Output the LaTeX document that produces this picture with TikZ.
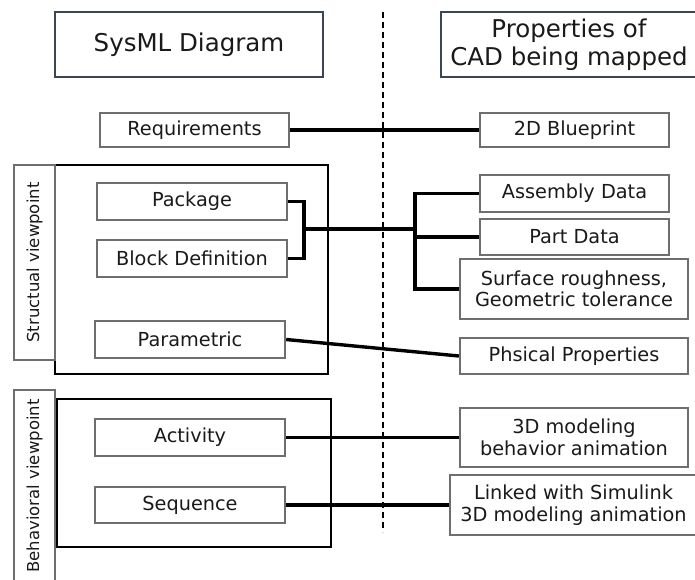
\documentclass[tikz,border=0pt]{standalone}
\usepackage{fontspec}
\setmainfont{DejaVu Sans}
\definecolor{hdrc}{HTML}{3A4656}
\definecolor{itmc}{HTML}{6E6E6E}
\definecolor{txt}{HTML}{1A1A1A}
\begin{document}
\begin{tikzpicture}[x=1pt,y=-1pt,
 hdr/.style={draw=hdrc, line width=1.6pt, fill=white, inner sep=0pt, align=center, font=\fontsize{24.5}{28}\selectfont, text=txt},
 itm/.style={draw=itmc, line width=2.3pt, fill=white, inner sep=0pt, align=center, font=\fontsize{19.3}{21.5}\selectfont, text=txt},
 grp/.style={draw=black, line width=1.8pt, inner sep=0pt},
 lbl/.style={draw=itmc, line width=2.3pt, fill=white, inner sep=0pt, rotate=90, font=\fontsize{16.5}{19}\selectfont, text=txt},
 conn/.style={line width=3.4pt, draw=black},
 sep/.style={line width=2pt, draw=black, dash pattern=on 6pt off 4pt},
]
\useasboundingbox (0,0) rectangle (695,580);
% separator
\coordinate (dtop) at (383,12);
\coordinate (dbot) at (383,532);
\draw[sep] (dtop) -- (dbot);
% headers
\node[hdr, minimum width=268, minimum height=65] (hs) at (189,44.5) {SysML Diagram};
\node[hdr, minimum width=256, minimum height=65] (hp) at (569,44.5) {Properties of\\CAD being mapped};
% requirements
\node[itm, minimum width=189, minimum height=34] (req) at (194.5,130) {Requirements};
\node[itm, minimum width=189, minimum height=34] (bp) at (574.5,130) {2D Blueprint};
% structural group
\node[grp, minimum width=273, minimum height=209] (sgrp) at (191.5,269.5) {};
\node[lbl, minimum width=195, minimum height=41] (slbl) at (34.5,262.5) {Structual viewpoint};
\node[itm, minimum width=190, minimum height=37] (pkg) at (192,201.5) {Package};
\node[itm, minimum width=190, minimum height=37] (bd) at (192,258.5) {Block Definition};
\node[itm, minimum width=190, minimum height=37] (par) at (190,339.5) {Parametric};
% right structural
\node[itm, minimum width=189, minimum height=37] (ad) at (574.5,193.5) {Assembly Data};
\node[itm, minimum width=189, minimum height=36] (pd) at (574.5,237) {Part Data};
\node[itm, minimum width=228, minimum height=60] (sr) at (574,289) {Surface roughness,\\Geometric tolerance};
\node[itm, minimum width=228, minimum height=36] (phy) at (574,356) {Phsical Properties};
% behavioral group
\node[grp, minimum width=274, minimum height=148] (bgrp) at (194,473) {};
\node[lbl, minimum width=192, minimum height=41] (blbl) at (34.5,486) {Behavioral viewpoint};
\node[itm, minimum width=190, minimum height=37] (act) at (190,437.5) {Activity};
\node[itm, minimum width=190, minimum height=36] (seq) at (190,505) {Sequence};
\node[itm, minimum width=228, minimum height=59] (anim) at (574,437.5) {3D modeling\\behavior animation};
\node[itm, minimum width=247, minimum height=60] (sim) at (573.5,505) {Linked with Simulink\\3D modeling animation};
% connectors
\coordinate (j1) at (304,229);
\coordinate (j2) at (415,229);
\draw[conn] (req.east) -- (bp.west);
\draw[conn] (pkg.east) -| (j1) |- (bd.east);
\draw[conn] (j1) -- (j2);
\draw[conn] (ad.west) -| (j2);
\draw[conn] (sr.west) -| (j2);
\draw[conn] (pd.west) -- (pd.west -| j2);
\draw[conn] (par.east) -- (phy.west);
\draw[conn] (act.east) -- (anim.west);
\draw[conn] (seq.east) -- (sim.west);
\end{tikzpicture}
\end{document}
